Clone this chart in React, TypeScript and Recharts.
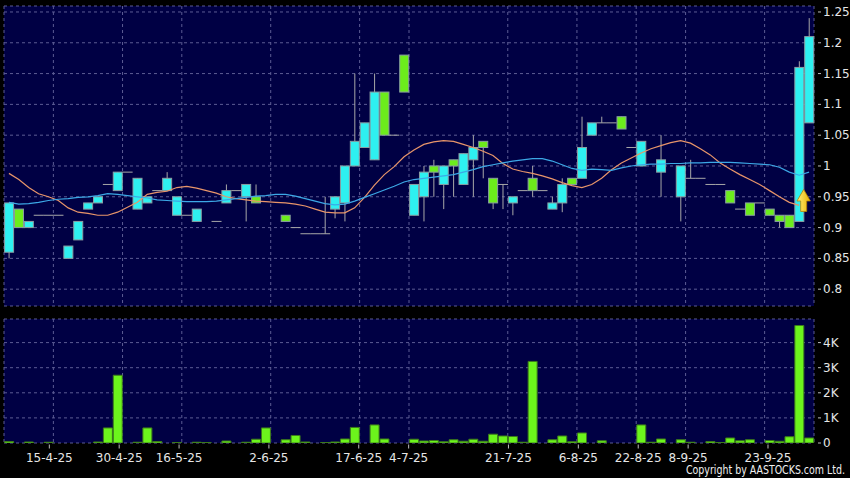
import React from 'react';
import { ComposedChart, Bar, Line, XAxis, YAxis, CartesianGrid, ReferenceDot } from 'recharts';

// ---- data ----
const dateLabels = ['15-4-25', '30-4-25', '16-5-25', '2-6-25', '17-6-25', '4-7-25', '21-7-25', '6-8-25', '22-8-25', '8-9-25', '23-9-25'];
// label positions, in candle-index units (between two sessions)
const dateTickPos = [4.5, 11.5, 17.5, 26.5, 35.5, 40.5, 50.5, 57.5, 63.5, 68.5, 76.5];

const opens = [
  0.86, 0.93, 0.90, 0.92, 0.92, 0.92, 0.85, 0.88, 0.93, 0.94,
  0.97, 0.96, 0.99, 0.93, 0.94, 0.96, 0.96, 0.92, 0.92, 0.91,
  null, 0.91, 0.94, 0.96, 0.95, 0.95, null, null, 0.92, 0.90,
  0.89, 0.89, 0.89, 0.93, 0.94, 1.00, 1.03, 1.01, 1.12, 1.05,
  1.18, 0.92, 0.95, 1.00, 0.97, 1.01, 0.97, 1.01, 1.04, 0.98,
  0.97, 0.94, 0.96, 0.98, 0.96, 0.93, 0.94, 0.98, 0.98, 1.05,
  1.07, 1.07, 1.08, 1.03, 1.00, null, 0.99, null, 0.95, 0.98,
  0.98, 0.97, 0.97, 0.96, 0.93, 0.94, 0.94, 0.93, 0.92, 0.92,
  0.91, 1.07,
];
const highs = [
  0.94, 0.93, 0.91, 0.92, 0.92, 0.92, 0.87, 0.91, 0.94, 0.95,
  0.97, 0.99, 0.99, 0.98, 0.95, 0.96, 0.99, 0.95, 0.92, 0.93,
  null, 0.91, 0.97, 0.96, 0.97, 0.97, null, null, 0.92, 0.90,
  0.89, 0.89, 0.95, 0.95, 1.00, 1.15, 1.07, 1.15, 1.12, 1.05,
  1.18, 0.97, 1.00, 1.01, 1.00, 1.01, 1.02, 1.05, 1.04, 0.98,
  0.97, 0.95, 0.96, 1.00, 0.96, 0.95, 0.98, 0.98, 1.08, 1.07,
  1.08, 1.07, 1.08, 1.03, 1.04, null, 1.05, null, 1.00, 1.01,
  0.98, 0.97, 0.97, 0.96, 0.93, 0.94, 0.94, 0.93, 0.92, 0.92,
  1.17, 1.24,
];
const lows = [
  0.85, 0.90, 0.90, 0.92, 0.92, 0.92, 0.85, 0.88, 0.93, 0.94,
  0.97, 0.96, 0.99, 0.93, 0.94, 0.96, 0.96, 0.92, 0.92, 0.91,
  null, 0.91, 0.94, 0.96, 0.91, 0.94, null, null, 0.91, 0.90,
  0.89, 0.89, 0.89, 0.915, 0.91, 1.00, 1.03, 1.01, 1.05, 1.05,
  1.12, 0.92, 0.91, 0.95, 0.93, 0.95, 0.97, 0.95, 0.98, 0.93,
  0.93, 0.92, 0.96, 0.95, 0.96, 0.93, 0.925, 0.97, 0.98, 1.05,
  1.07, 1.07, 1.06, 1.03, 1.00, null, 0.95, null, 0.91, 0.98,
  0.98, 0.97, 0.97, 0.94, 0.93, 0.92, 0.94, 0.92, 0.90, 0.90,
  0.91, 1.07,
];
const closes = [
  0.94, 0.90, 0.91, 0.92, 0.92, 0.92, 0.87, 0.91, 0.94, 0.95,
  0.97, 0.99, 0.99, 0.98, 0.95, 0.96, 0.98, 0.95, 0.92, 0.93,
  null, 0.91, 0.96, 0.96, 0.97, 0.94, null, null, 0.91, 0.90,
  0.89, 0.89, 0.89, 0.95, 1.00, 1.04, 1.07, 1.12, 1.05, 1.05,
  1.12, 0.97, 0.99, 0.99, 1.00, 1.00, 1.02, 1.03, 1.03, 0.94,
  0.97, 0.95, 0.96, 0.96, 0.96, 0.94, 0.97, 0.97, 1.03, 1.07,
  1.07, 1.07, 1.06, 1.03, 1.04, null, 1.01, null, 1.00, 0.98,
  0.98, 0.97, 0.97, 0.94, 0.93, 0.92, 0.94, 0.92, 0.91, 0.90,
  1.16, 1.21,
];
const volumes = [
  60, 0, 40, 0, 30, 0, 0, 0, 0, 40,
  600, 2700, 0, 30, 600, 60, 0, 20, 0, 30,
  20, 0, 80, 0, 30, 150, 600, 0, 130, 300,
  40, 0, 20, 40, 160, 620, 0, 720, 160, 0,
  0, 150, 80, 100, 50, 130, 70, 150, 70, 350,
  280, 260, 30, 3250, 0, 130, 280, 50, 400, 0,
  90, 0, 0, 0, 720, 30, 160, 0, 130, 30,
  0, 60, 20, 200, 90, 130, 0, 100, 70, 250,
  4680, 200,
];
const maShort = [
  0.988, 0.978, 0.965, 0.955, 0.950, 0.944, 0.932, 0.925, 0.923, 0.920,
  0.920, 0.925, 0.933, 0.941, 0.954, 0.957, 0.959, 0.965, 0.967, 0.964,
  0.960, 0.956, 0.950, 0.947, 0.945, 0.943, 0.942, 0.941, 0.940, 0.938,
  0.935, 0.930, 0.925, 0.924, 0.924, 0.932, 0.949, 0.969, 0.986, 0.999,
  1.015, 1.026, 1.035, 1.039, 1.041, 1.040, 1.035, 1.030, 1.024, 1.017,
  1.004, 0.995, 0.991, 0.988, 0.984, 0.979, 0.973, 0.968, 0.965, 0.970,
  0.980, 0.994, 1.005, 1.013, 1.021, 1.028, 1.033, 1.038, 1.041, 1.037,
  1.028, 1.018, 1.005, 0.995, 0.986, 0.978, 0.970, 0.960, 0.950, 0.941,
  0.936, null,
];
const maLong = [
  0.941, 0.938, 0.939, 0.941, 0.944, 0.946, 0.947, 0.949, 0.950, 0.952,
  0.955, 0.954, 0.952, 0.950, 0.948, 0.945, 0.944, 0.943, 0.942, 0.942,
  0.942, 0.943, 0.945, 0.947, 0.949, 0.951, 0.952, 0.954, 0.954, 0.951,
  0.947, 0.943, 0.939, 0.937, 0.938, 0.943, 0.949, 0.955, 0.961, 0.967,
  0.974, 0.978, 0.980, 0.982, 0.984, 0.986, 0.990, 0.994, 0.999, 1.002,
  1.005, 1.008, 1.010, 1.012, 1.012, 1.008, 1.002, 0.996, 0.993, 0.995,
  0.994, 0.993, 0.997, 1.000, 1.002, 1.003, 1.003, 1.004, 1.004, 1.005,
  1.005, 1.006, 1.006, 1.006, 1.005, 1.004, 1.003, 1.002, 0.998, 0.990,
  0.985, 0.990,
];
const priceTicks = [0.8, 0.85, 0.9, 0.95, 1.0, 1.05, 1.1, 1.15, 1.2, 1.25];
const volumeTicks = [0, 1000, 2000, 3000, 4000];
const signalIndex = 80;
const signalPrice = 0.944;
const copyright = 'Copyright by AASTOCKS.com Ltd.';

// ---- layout / styling ----
const VOL_H = 166;
const VOL_MARGIN = { top: 7, right: 0, bottom: 13, left: 4 };
const LBL_AXIS_H = 22;
const VOL_PLOT_BOTTOM = VOL_H - VOL_MARGIN.bottom - LBL_AXIS_H;

const PLOT_BG = '#000044';
const GRID = '#5c5c94';
const UP = '#2ef0f0';
const DOWN = '#6cec1c';
const EDGE = '#8a9ea2';
const WICK = '#a8a8a8';
const TEXT = '#e6e6e6';
const FONT = "'DejaVu Sans', sans-serif";

const rows = opens.map((o, i) => ({
  i,
  open: o,
  high: highs[i],
  low: lows[i],
  close: closes[i],
  range: o == null ? null : [lows[i], highs[i]],
  vol: volumes[i],
  maS: maShort[i],
  maL: maLong[i],
}));

const Candle = (props: any) => {
  const { x, y, width, height, payload } = props;
  if (!payload || payload.open == null) return null;
  const { open, close, high, low } = payload;
  const top = Math.min(y, y + height);
  const h = Math.abs(height);
  const span = high - low;
  const toY = (v: number) => (span > 0 ? top + ((high - v) / span) * h : top);
  const cx = x + width / 2;
  const yo = toY(open);
  const yc = toY(close);
  const bodyTop = Math.min(yo, yc);
  const bodyH = Math.abs(yo - yc);
  const flat = open === close;
  return (
    <g>
      {span > 0 && <line x1={cx} x2={cx} y1={top} y2={top + h} stroke={WICK} strokeWidth={1} />}
      {flat ? (
        <line x1={x - 0.5} x2={x + width + 0.5} y1={yo} y2={yo} stroke={WICK} strokeWidth={1} />
      ) : (
        <rect x={x} y={bodyTop} width={width} height={bodyH} fill={close > open ? UP : DOWN} stroke={EDGE} strokeWidth={1} />
      )}
    </g>
  );
};

const fmtPrice = (v: number) => String(Number(v.toFixed(2)));
const fmtVol = (v: number) => (v === 0 ? '0' : `${v / 1000}K`);

const makeYTick = (fmt: (v: number) => string) => (props: any) => {
  const { x, y, payload } = props;
  return (
    <g>
      <line x1={x + 4} x2={x + 7} y1={y} y2={y} stroke="#bdbdbd" strokeWidth={1} />
      <text x={x + 9} y={y + 4} fill={TEXT} fontSize={12} fontFamily={FONT}>
        {fmt(payload.value)}
      </text>
    </g>
  );
};
const PriceTick = makeYTick(fmtPrice);
const VolTick = makeYTick(fmtVol);

const DateTick = (props: any) => {
  const { x, payload } = props;
  const k = dateTickPos.indexOf(payload.value);
  const y = VOL_PLOT_BOTTOM;
  return (
    <g>
      <line x1={x} x2={x} y1={y + 1.5} y2={y + 5.5} stroke="#bdbdbd" strokeWidth={1} />
      <text x={x} y={y + 18.7} textAnchor="middle" fill={TEXT} fontSize={12} fontFamily={FONT}>
        {k >= 0 ? dateLabels[k] : ''}
      </text>
    </g>
  );
};

const Arrow = (props: any) => {
  const { cx, cy } = props;
  const ax = cx + 4.5;
  const d = `M${ax},${cy - 11} L${ax + 6.7},${cy + 0.5} L${ax + 3},${cy + 0.5} L${ax + 3},${cy + 11} L${ax - 3},${cy + 11} L${ax - 3},${cy + 0.5} L${ax - 6.7},${cy + 0.5} Z`;
  return (
    <g>
      <defs>
        <linearGradient id="arrowGrad" x1="0" y1="0" x2="1" y2="0">
          <stop offset="0" stopColor="#fff27a" />
          <stop offset="1" stopColor="#e8b000" />
        </linearGradient>
      </defs>
      <path d={d} fill="url(#arrowGrad)" stroke="#b88400" strokeWidth={0.8} />
    </g>
  );
};

export default function App() {
  return (
    <div style={{ position: 'absolute', left: 0, top: 0, width: 850, height: 478, background: '#000', overflow: 'hidden' }}>
      <div style={{ position: 'absolute', left: 0, top: 0 }}>
        <ComposedChart width={850} height={312} data={rows} margin={{ top: 6, right: 0, bottom: 6, left: 4 }} barCategoryGap="6%">
          <XAxis xAxisId="cat" dataKey="i" type="category" hide />
          <XAxis xAxisId="num" dataKey="i" type="number" domain={[-0.5, 81.5]} ticks={dateTickPos} allowDataOverflow hide />
          <YAxis
            orientation="right"
            width={36}
            domain={[0.7727, 1.2597]}
            ticks={priceTicks}
            allowDataOverflow
            axisLine={false}
            tickLine={false}
            tickSize={0}
            tickMargin={0}
            tick={PriceTick}
            interval={0}
          />
          <CartesianGrid xAxisId="num" fill={PLOT_BG} fillOpacity={1} stroke={GRID} strokeDasharray="3 3" />
          <Bar xAxisId="cat" dataKey="range" shape={Candle} isAnimationActive={false} />
          <Line xAxisId="cat" dataKey="maS" stroke="#e8956a" strokeWidth={1.2} dot={false} activeDot={false} isAnimationActive={false} />
          <Line xAxisId="cat" dataKey="maL" stroke="#3ca8e6" strokeWidth={1.2} dot={false} activeDot={false} isAnimationActive={false} />
          <ReferenceDot xAxisId="cat" x={signalIndex} y={signalPrice} shape={Arrow} ifOverflow="visible" />
        </ComposedChart>
      </div>
      <div style={{ position: 'absolute', left: 0, top: 312 }}>
        <ComposedChart width={850} height={VOL_H} data={rows} margin={VOL_MARGIN} barCategoryGap="6%">
          <XAxis xAxisId="cat" dataKey="i" type="category" hide />
          <XAxis xAxisId="num" dataKey="i" type="number" domain={[-0.5, 81.5]} ticks={dateTickPos} allowDataOverflow hide />
          <XAxis
            xAxisId="lbl"
            dataKey="i"
            type="number"
            domain={[-0.04, 81.11]}
            ticks={dateTickPos}
            allowDataOverflow
            height={LBL_AXIS_H}
            axisLine={false}
            tickLine={false}
            tickSize={0}
            tickMargin={0}
            tick={DateTick}
            interval={0}
          />
          <YAxis
            orientation="right"
            width={36}
            domain={[0, 4940]}
            ticks={volumeTicks}
            allowDataOverflow
            axisLine={false}
            tickLine={false}
            tickSize={0}
            tickMargin={0}
            tick={VolTick}
            interval={0}
          />
          <CartesianGrid xAxisId="num" fill={PLOT_BG} fillOpacity={1} stroke={GRID} strokeDasharray="3 3" />
          <Bar xAxisId="cat" dataKey="vol" fill="#6cf41c" stroke="#3d7a1c" strokeWidth={1} isAnimationActive={false} />
        </ComposedChart>
      </div>
      <svg width={850} height={478} style={{ position: 'absolute', left: 0, top: 0, pointerEvents: 'none' }}>
        <text
          x={845}
          y={474}
          textAnchor="end"
          fill="#f0f0f0"
          fontSize={11.5}
          fontFamily={FONT}
          textLength={159}
          lengthAdjust="spacingAndGlyphs"
        >
          {copyright}
        </text>
      </svg>
    </div>
  );
}
